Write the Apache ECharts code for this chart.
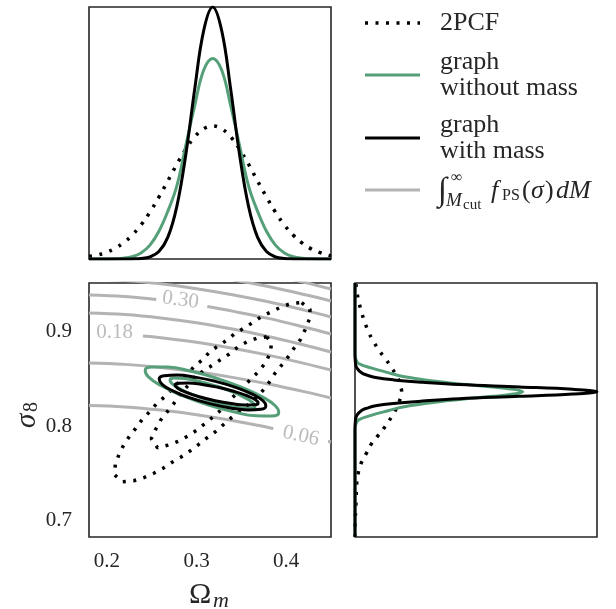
<!DOCTYPE html>
<html>
<head>
<meta charset="utf-8">
<script src="https://cdn.jsdelivr.net/npm/echarts@6/dist/echarts.min.js"></script>
<style>
html, body { margin: 0; padding: 0; background: #fff; }
#chart { width: 616px; height: 609px; }
</style>
</head>
<body>
<div id="chart"></div>
<script>
// Omega_m marginal (top panel)
var omegaGrid = [0.18, 0.188, 0.198, 0.208, 0.218, 0.228, 0.238, 0.248, 0.258, 0.268, 0.278, 0.288, 0.298, 0.308,
	0.318, 0.328, 0.338, 0.348, 0.358, 0.368, 0.378, 0.388, 0.398, 0.408, 0.418, 0.428, 0.438, 0.448, 0.45];
var topPcf = [0.011, 0.0146, 0.025, 0.040, 0.063, 0.094, 0.135, 0.186, 0.246, 0.310, 0.376, 0.436, 0.485, 0.517,
	0.528, 0.517, 0.485, 0.436, 0.376, 0.310, 0.246, 0.186, 0.135, 0.094, 0.063, 0.040, 0.025, 0.0146, 0.013];
var topNoMass = [0, 0, 0, 0.001, 0.003, 0.009, 0.024, 0.055, 0.11, 0.19, 0.29, 0.45, 0.61, 0.75,
	0.796, 0.75, 0.61, 0.45, 0.29, 0.19, 0.11, 0.055, 0.024, 0.009, 0.003, 0.001, 0, 0, 0];
var topMass = [0, 0, 0, 0, 0, 0.0004, 0.0019, 0.0083, 0.0295, 0.0866, 0.209, 0.414, 0.676, 0.907,
	1.0, 0.907, 0.676, 0.414, 0.209, 0.0866, 0.0295, 0.0083, 0.0019, 0.0004, 0, 0, 0, 0, 0];

// sigma_8 marginal (right panel)
var sigmaGridMass = [0.682, 0.7965, 0.8065, 0.8115, 0.8165, 0.819, 0.8215, 0.824, 0.8265, 0.829, 0.8315, 0.834,
	0.8365, 0.839, 0.8415, 0.844, 0.8465, 0.849, 0.8515, 0.854, 0.8565, 0.8615, 0.8665, 0.8765, 0.952];
var rightMass = [0, 0, 0.002, 0.008, 0.027, 0.05, 0.085, 0.16, 0.28, 0.43, 0.68, 0.9,
	1.0, 0.9, 0.68, 0.43, 0.28, 0.16, 0.085, 0.05, 0.027, 0.008, 0.002, 0, 0];
var sigmaGridNoMass = [0.682, 0.7965, 0.8015, 0.8065, 0.8115, 0.8165, 0.819, 0.8215, 0.824, 0.8265, 0.829, 0.8315, 0.834,
	0.8365, 0.839, 0.8415, 0.844, 0.8465, 0.849, 0.8515, 0.854, 0.8565, 0.8615, 0.8665, 0.8715, 0.8765, 0.952];
var rightNoMass = [0, 0, 0.003, 0.015, 0.07, 0.14, 0.175, 0.225, 0.29, 0.37, 0.46, 0.57, 0.655,
	0.693, 0.655, 0.57, 0.46, 0.37, 0.29, 0.225, 0.175, 0.14, 0.07, 0.015, 0.003, 0, 0];
var sigmaGridPcf = [0.682, 0.70, 0.718, 0.739, 0.751, 0.762, 0.7715, 0.7815, 0.790, 0.7993, 0.810, 0.818, 0.826,
	0.836, 0.845, 0.851, 0.8616, 0.872, 0.879, 0.890, 0.9006, 0.920, 0.943, 0.952];
var rightPcf = [0, 0.001, 0.004, 0.007, 0.014, 0.028, 0.048, 0.069, 0.096, 0.124, 0.152, 0.17, 0.183,
	0.193, 0.184, 0.177, 0.152, 0.124, 0.103, 0.076, 0.055, 0.028, 0.007, 0.004];

// 2D contours [Omega_m, sigma_8]
var pcfOuter = [[0.4173, 0.9311], [0.4266, 0.924], [0.4258, 0.9134], [0.421, 0.902], [0.4162, 0.8922], [0.4087, 0.8826],
	[0.4024, 0.8737], [0.395, 0.8648], [0.3875, 0.856], [0.3783, 0.8425], [0.3686, 0.8319], [0.3585, 0.8234],
	[0.3485, 0.8159], [0.3384, 0.8085], [0.3295, 0.801], [0.3206, 0.7936], [0.3109, 0.7869], [0.3016, 0.7798],
	[0.2916, 0.7727], [0.2823, 0.7667], [0.2726, 0.7614], [0.2626, 0.755], [0.2522, 0.7497], [0.241, 0.745],
	[0.2299, 0.7418], [0.2172, 0.7408], [0.2087, 0.7479], [0.2093, 0.7593], [0.2135, 0.7699], [0.2187, 0.7798],
	[0.2254, 0.7894], [0.2321, 0.7975], [0.2395, 0.8071], [0.2477, 0.8152], [0.2551, 0.8234], [0.2645, 0.8311],
	[0.2726, 0.8393], [0.2815, 0.8478], [0.2905, 0.856], [0.2979, 0.8638], [0.3072, 0.8709], [0.3147, 0.879],
	[0.3239, 0.885], [0.334, 0.8914], [0.3432, 0.8985], [0.3537, 0.9045], [0.363, 0.9102], [0.3734, 0.9169],
	[0.3836, 0.9215], [0.395, 0.9268], [0.4062, 0.9304], [0.4173, 0.9311]];
var pcfInner = [[0.3783, 0.8949], [0.3838, 0.8879], [0.3819, 0.8773], [0.3775, 0.8683], [0.3708, 0.8595], [0.3615, 0.8507],
	[0.3518, 0.8414], [0.3429, 0.8329], [0.3351, 0.8255], [0.3273, 0.817], [0.3187, 0.8099], [0.3098, 0.8029],
	[0.3005, 0.7957], [0.2905, 0.7894], [0.2801, 0.784], [0.269, 0.7798], [0.2564, 0.7769], [0.2495, 0.7865],
	[0.2544, 0.7965], [0.26, 0.8064], [0.2674, 0.8152], [0.2748, 0.8241], [0.2815, 0.834], [0.2893, 0.8418],
	[0.2983, 0.851], [0.3072, 0.8585], [0.315, 0.863], [0.3262, 0.8701], [0.3365, 0.8765], [0.3466, 0.8843],
	[0.3566, 0.8896], [0.3671, 0.8932], [0.3783, 0.8949]];
var noMassOuter = [[0.3125, 0.8225], [0.2843, 0.8322], [0.2612, 0.8425], [0.2466, 0.852], [0.2427, 0.8591], [0.2502, 0.8628],
	[0.2679, 0.8626], [0.293, 0.8584], [0.3219, 0.8509], [0.35, 0.8412], [0.3732, 0.8309], [0.3878, 0.8215],
	[0.3917, 0.8143], [0.3842, 0.8106], [0.3665, 0.8109], [0.3414, 0.815], [0.3125, 0.8225]];
var noMassInner = [[0.3151, 0.8267], [0.2972, 0.8327], [0.2824, 0.8391], [0.273, 0.8448], [0.2704, 0.8489], [0.2751, 0.851],
	[0.2862, 0.8505], [0.3021, 0.8477], [0.3205, 0.8429], [0.3384, 0.8369], [0.3532, 0.8305], [0.3626, 0.8248],
	[0.3652, 0.8207], [0.3605, 0.8186], [0.3494, 0.8191], [0.3335, 0.8219], [0.3151, 0.8267]];
var massOuter = [[0.3147, 0.8238], [0.2921, 0.8301], [0.2735, 0.8374], [0.2616, 0.8443], [0.2583, 0.8499], [0.264, 0.8534],
	[0.278, 0.8541], [0.2979, 0.852], [0.3209, 0.8475], [0.3435, 0.8411], [0.3621, 0.8338], [0.374, 0.8269],
	[0.3773, 0.8213], [0.3716, 0.8178], [0.3576, 0.8171], [0.3377, 0.8192], [0.3147, 0.8238]];
var massInner = [[0.3207, 0.8269], [0.3031, 0.8311], [0.2884, 0.8358], [0.2789, 0.8401], [0.276, 0.8435], [0.2801, 0.8455],
	[0.2907, 0.8457], [0.306, 0.8442], [0.3239, 0.8411], [0.3415, 0.8369], [0.3562, 0.8322], [0.3657, 0.8279],
	[0.3687, 0.8245], [0.3645, 0.8225], [0.3539, 0.8223], [0.3386, 0.8238], [0.3207, 0.8269]];

// iso-lines of the integrated PS mass function (gaps where labels sit)
var fps006 = [[0.18, 0.8218], [0.22, 0.8203], [0.26, 0.8169], [0.30, 0.812], [0.34, 0.8058], [0.38, 0.7985], [0.3856, 0.7972]];
var fps006b = [[0.4467, 0.7838], [0.45, 0.783]];
var fps012 = [[0.18, 0.867], [0.22, 0.8655], [0.26, 0.8623], [0.30, 0.8576], [0.34, 0.8517], [0.38, 0.8446], [0.42, 0.8365], [0.45, 0.8298]];
var fps018 = [[0.2402, 0.8957], [0.26, 0.8939], [0.30, 0.889], [0.34, 0.8827], [0.38, 0.8753], [0.42, 0.8666], [0.45, 0.8595]];
var fps024 = [[0.18, 0.9201], [0.22, 0.9185], [0.26, 0.9149], [0.30, 0.9097], [0.34, 0.903], [0.38, 0.8952], [0.42, 0.8861], [0.45, 0.8787]];
var fps030 = [[0.18, 0.9392], [0.22, 0.9376], [0.255, 0.9345]];
var fps030b = [[0.312, 0.927], [0.34, 0.9221], [0.38, 0.9144], [0.42, 0.9052], [0.45, 0.8978]];
var fps036 = [[0.18, 0.9563], [0.22, 0.9547], [0.26, 0.9511], [0.30, 0.946], [0.34, 0.9396], [0.38, 0.932], [0.42, 0.9232], [0.45, 0.9159]];
var fps042 = [[0.18, 0.9711], [0.22, 0.9696], [0.26, 0.9664], [0.30, 0.9615], [0.34, 0.9554], [0.38, 0.9482], [0.42, 0.9398], [0.45, 0.9329]];
var fps048 = [[0.30, 0.9751], [0.34, 0.9688], [0.38, 0.9614], [0.42, 0.9527], [0.45, 0.9456]];
var fpsLabelText = ['0.30', '0.18', '0.06'];
var fpsLabelPos = [[0.2821, 0.9339], [0.2085, 0.8989], [0.4165, 0.7894]];

var omegaTicks = [0.2, 0.3, 0.4];
var sigmaTicks = [0.7, 0.8, 0.9];

var GREEN = '#559f79';
var GREY = '#b3b3b3';
var INK = '#262626';
var SERIF = 'Liberation Serif';
var DOTS = [3, 7.5];

function zip(xs, ys) {
	return xs.map(function (x, i) { return [x, ys[i]]; });
}

function lineSeries(data, gi, color, width, dash, smooth) {
	return {
		type: 'line',
		xAxisIndex: gi,
		yAxisIndex: gi,
		data: data,
		symbol: 'none',
		smooth: smooth,
		silent: true,
		lineStyle: { color: color, width: width, type: dash || 'solid', cap: 'butt' }
	};
}

var dom = document.getElementById('chart');
var myChart = echarts.init(dom, null, { renderer: 'canvas' });

var hideAxis = {
	axisLine: { show: false },
	axisTick: { show: false },
	splitLine: { show: false },
	axisLabel: { show: false }
};

var series = [];
[fps006, fps006b, fps012, fps018, fps024, fps030, fps030b, fps036, fps042, fps048].forEach(function (d) {
	series.push(lineSeries(d, 1, GREY, 3, 'solid', 0.4));
});
var labelRot = [-8, 0, -12];
series.push({
	type: 'scatter',
	xAxisIndex: 1,
	yAxisIndex: 1,
	symbolSize: 1,
	silent: true,
	itemStyle: { color: 'rgba(0,0,0,0)' },
	data: fpsLabelPos.map(function (p, i) {
		return { value: p, name: fpsLabelText[i], label: { rotate: labelRot[i] } };
	}),
	label: {
		show: true,
		position: 'inside',
		formatter: '{b}',
		color: '#aaaaaa',
		fontSize: 21,
		fontFamily: SERIF
	}
});
series.push(lineSeries(pcfOuter, 1, '#000', 3.5, DOTS, false));
series.push(lineSeries(pcfInner, 1, '#000', 3.5, DOTS, false));
series.push(lineSeries(noMassOuter, 1, GREEN, 3, 'solid', 0.5));
series.push(lineSeries(noMassInner, 1, GREEN, 3, 'solid', 0.5));
series.push(lineSeries(massOuter, 1, '#000', 3, 'solid', 0.5));
series.push(lineSeries(massInner, 1, '#000', 3, 'solid', 0.5));

series.push(lineSeries(zip(omegaGrid, topPcf), 0, '#000', 3.5, DOTS, 0.4));
series.push(lineSeries(zip(omegaGrid, topNoMass), 0, GREEN, 3, 'solid', 0.4));
series.push(lineSeries(zip(omegaGrid, topMass), 0, '#000', 3, 'solid', 0.4));

series.push(lineSeries(zip(rightPcf, sigmaGridPcf), 2, '#000', 3.5, DOTS, 0.4));
series.push(lineSeries(zip(rightNoMass, sigmaGridNoMass), 2, GREEN, 3, 'solid', 0.4));
series.push(lineSeries(zip(rightMass, sigmaGridMass), 2, '#000', 3, 'solid', 0.4));

function txt(x, y, text, font, extra) {
	var s = { text: text, font: font, fill: INK, align: 'left', verticalAlign: 'middle' };
	if (extra) { for (var k in extra) s[k] = extra[k]; }
	return { type: 'text', x: x, y: y, silent: true, style: s };
}
function sample(y, color, dash) {
	return {
		type: 'line', silent: true,
		shape: { x1: 365, y1: y, x2: 420, y2: y },
		style: { stroke: color, lineWidth: dash ? 3.5 : 3, lineDash: dash || null }
	};
}

var graphics = [
	sample(23, '#000', DOTS),
	sample(75, GREEN),
	sample(138, '#000'),
	sample(190, GREY),
	txt(440, 23, '2PCF', '26px ' + SERIF),
	txt(440, 75, 'graph\nwithout mass', '26px ' + SERIF, { lineHeight: 26 }),
	txt(440, 138, 'graph\nwith mass', '26px ' + SERIF, { lineHeight: 26 }),
	txt(438, 191, '\u222B', 'italic 33px ' + SERIF),
	txt(451, 178, '\u221E', '16px ' + SERIF),
	txt(446, 201, 'M', 'italic 19px ' + SERIF),
	txt(463, 205, 'cut', '15px ' + SERIF),
	txt(491, 191, 'f', 'italic 26px ' + SERIF),
	txt(502, 196, 'PS', '16px ' + SERIF),
	txt(522, 191, '(', '26px ' + SERIF),
	txt(531, 191, '\u03C3', 'italic 26px ' + SERIF),
	txt(545, 191, ')', '26px ' + SERIF),
	txt(556, 191, 'dM', 'italic 26px ' + SERIF),
	txt(189, 595, '\u03A9', '30px ' + SERIF),
	txt(213, 601, 'm', 'italic 22px ' + SERIF),
	{
		type: 'group', x: 27, y: 428, rotation: Math.PI / 2, silent: true,
		children: [
			{ type: 'text', x: 0, y: 0, style: { text: '\u03C3', font: 'italic 29px ' + SERIF, fill: INK, align: 'left', verticalAlign: 'middle' } },
			{ type: 'text', x: 16, y: 5, style: { text: '8', font: '20px ' + SERIF, fill: INK, align: 'left', verticalAlign: 'middle' } }
		]
	}
];

var gridStyle = { show: true, borderColor: INK, borderWidth: 1.6, backgroundColor: 'transparent' };

var option = {
	animation: false,
	backgroundColor: '#fff',
	grid: [
		Object.assign({ left: 89, top: 7, width: 242, height: 252 }, gridStyle),
		Object.assign({ left: 89, top: 283, width: 242, height: 254 }, gridStyle),
		Object.assign({ left: 355, top: 283, width: 242, height: 254 }, gridStyle)
	],
	xAxis: [
		Object.assign({ type: 'value', gridIndex: 0, min: 0.18, max: 0.45 }, hideAxis),
		{
			type: 'value', gridIndex: 1, min: 0.18, max: 0.45,
			axisLine: { show: false }, axisTick: { show: false }, splitLine: { show: false },
			axisLabel: {
				show: true, customValues: omegaTicks, margin: 14,
				formatter: function (v) { return v.toFixed(1); },
				color: INK, fontSize: 21, fontFamily: SERIF
			}
		},
		Object.assign({ type: 'value', gridIndex: 2, min: 0, max: 1 }, hideAxis)
	],
	yAxis: [
		Object.assign({ type: 'value', gridIndex: 0, min: 0, max: 1 }, hideAxis),
		{
			type: 'value', gridIndex: 1, min: 0.682, max: 0.952,
			axisLine: { show: false }, axisTick: { show: false }, splitLine: { show: false },
			axisLabel: {
				show: true, customValues: sigmaTicks, margin: 17,
				formatter: function (v) { return v.toFixed(1); },
				color: INK, fontSize: 21, fontFamily: SERIF
			}
		},
		Object.assign({ type: 'value', gridIndex: 2, min: 0.682, max: 0.952 }, hideAxis)
	],
	graphic: graphics,
	series: series
};

myChart.setOption(option);
window.addEventListener('resize', myChart.resize);
</script>
</body>
</html>
